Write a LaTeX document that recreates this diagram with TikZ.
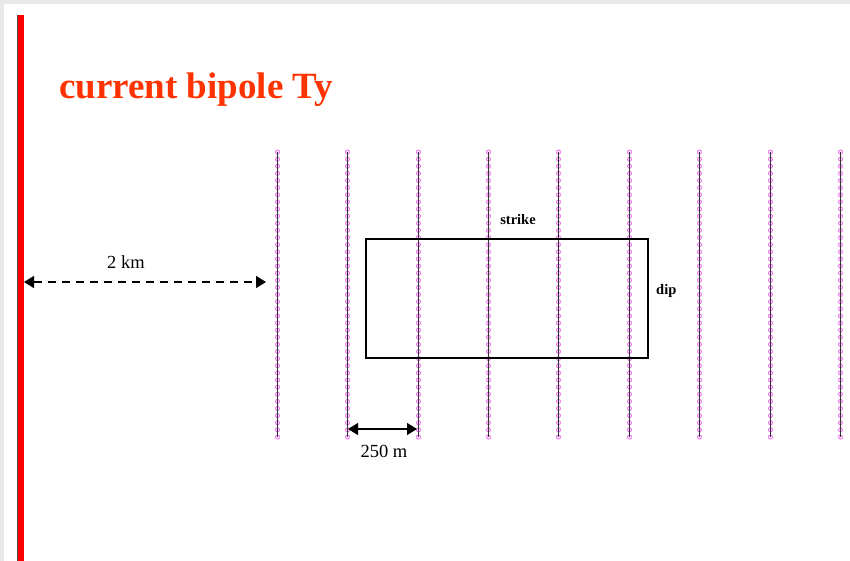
\documentclass[tikz,border=0pt]{standalone}
\usepackage{fontspec}
\setmainfont{Liberation Serif}
\usetikzlibrary{arrows.meta}
\definecolor{titlered}{HTML}{FF3300}
\definecolor{bggray}{HTML}{E9E9E9}
\definecolor{dotpink}{HTML}{EE77EE}
\tikzset{
  profile/.style={line width=1.2pt, black!80},
  dotmark/.style={draw=dotpink, line width=1pt},
  dimarrow/.style={line width=1.4pt, {Triangle[length=10pt,width=12pt]}-{Triangle[length=10pt,width=12pt]}},
  lbl/.style={inner sep=0pt, font=\fontsize{18.5}{20}\selectfont},
  smalllbl/.style={inner sep=0pt, font=\bfseries\fontsize{14.5}{16}\selectfont},
}
\begin{document}
\begin{tikzpicture}[x=1pt,y=-1pt]
\useasboundingbox (0,0) rectangle (850,561);
\fill[bggray] (0,0) rectangle (850,561);
\fill[white] (4,4) rectangle (850,561);
% red bipole line
\fill[red] (17.5,15) rectangle (23.5,561);
\draw[black!70, line width=0.6pt] (17.3,15) -- (17.3,561);
% title
\node[anchor=base west, inner sep=0pt, text=titlered, font=\bfseries\fontsize{37}{42}\selectfont] (title) at (59,99) {current bipole Ty};
% profiles
\foreach \i/\x in {1/277.5,2/347.5,3/418.5,4/488.5,5/558.5,6/629.5,7/699.5,8/770.5,9/840.5}{
  \coordinate (p\i top) at (\x,152);
  \coordinate (p\i bot) at (\x,437);
  \foreach \k in {0,...,40}{
    \draw[dotmark] (\x,152+\k*7.125) circle (2pt);
  }
  \draw[profile] (p\i top) -- (p\i bot);
}
% rectangle
\node[draw, line width=1.8pt, minimum width=282pt, minimum height=119pt, inner sep=0pt, anchor=north west] (box) at (365,238) {};
\node[smalllbl, anchor=base] (strike) at (518,225) {strike};
\node[smalllbl, anchor=base west] (dip) at (656,294) {dip};
% 2 km arrow
\coordinate (a1) at (24,282);
\coordinate (a2) at (266,282);
\draw[dimarrow, dash pattern=on 8pt off 6pt] (a1) -- (a2);
\node[lbl, anchor=base] (km) at (126,268) {2 km};
% 250 m arrow
\coordinate (b1) at (348,429);
\coordinate (b2) at (417,429);
\draw[line width=1.1pt, {Triangle[length=10pt,width=12pt]}-{Triangle[length=10pt,width=12pt]}] (b1) -- (b2);
\node[lbl, anchor=base] (m) at (384,457) {250 m};
\end{tikzpicture}
\end{document}
